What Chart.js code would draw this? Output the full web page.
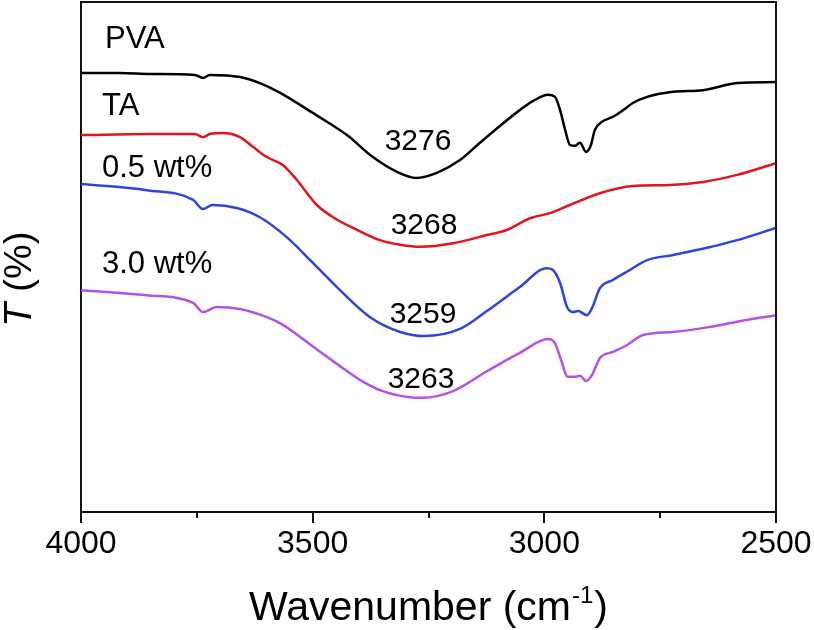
<!DOCTYPE html>
<html>
<head>
<meta charset="utf-8">
<script src="https://cdn.jsdelivr.net/npm/chart.js@4/dist/chart.umd.min.js"></script>
<style>
html,body{margin:0;padding:0;background:#fff;}
canvas{display:block;}
</style>
</head>
<body>
<canvas id="c" width="814" height="630"></canvas>
<script>
// Wavenumbers (cm-1) and transmittance (arbitrary offset %)
const pvaWn = [4000,3916,3851,3754,3737,3722,3657,3614,3570,3499,3426,3370,3318,3277,3232,3182,3139,3096,3053,3024,2992,2977,2966,2955,2945,2934,2923,2910,2900,2891,2876,2852,2830,2809,2778,2722,2658,2584,2500];
const pvaT  = [86.1,86.1,85.9,85.7,85.1,85.7,85.3,84.1,82.2,78.2,73.9,69.6,66.7,65.5,66.5,69.0,72.4,75.7,78.8,80.6,81.8,81.4,78.8,74.9,72.0,71.8,72.4,70.6,71.8,74.9,76.5,77.5,78.8,80.2,81.4,82.4,82.7,84.1,84.3];

const taWn = [4000,3851,3754,3737,3722,3694,3657,3629,3599,3564,3534,3506,3491,3456,3404,3355,3311,3268,3197,3124,3081,3059,3031,2988,2945,2880,2809,2729,2658,2584,2500];
const taT  = [73.9,74.1,74.1,73.5,74.1,74.3,73.5,71.6,69.6,68.0,65.1,61.8,60.2,57.8,55.3,53.3,52.4,52.0,52.7,54.3,55.3,56.3,57.6,58.6,60.2,62.5,63.9,64.1,64.7,66.1,68.4];

const w05Wn = [4000,3858,3758,3737,3716,3664,3614,3556,3499,3441,3376,3311,3259,3182,3124,3053,2995,2982,2966,2951,2938,2927,2908,2897,2880,2852,2822,2778,2722,2649,2584,2500];
const w05T  = [64.3,63.1,61.2,59.4,60.2,59.6,57.8,53.9,48.8,43.5,38.2,35.3,34.5,35.9,39.4,44.1,47.8,47.5,44.9,40.2,39.2,39.4,38.6,40.0,43.9,45.5,47.1,49.4,50.4,51.8,53.3,55.7];

const w30Wn = [4000,3858,3758,3737,3707,3657,3599,3564,3527,3484,3441,3398,3355,3290,3263,3197,3124,3053,2992,2977,2966,2949,2934,2923,2910,2897,2880,2852,2822,2787,2722,2642,2584,2500];
const w30T  = [43.5,42.5,41.0,39.2,40.2,39.8,38.2,36.7,34.3,31.4,28.6,25.9,23.9,22.5,22.4,23.7,27.6,31.2,33.9,33.1,30.4,26.5,26.5,26.7,25.7,26.9,30.2,31.4,32.7,34.7,35.3,36.3,37.3,38.6];

const seriesNames = ['PVA','TA','0.5 wt%','3.0 wt%'];
const xTickValues = [4000,3500,3000,2500];
const xMinorTicks = [3750,3250,2750];
const peakLabels = ['3276','3268','3259','3263'];

const pts = (wn, t) => wn.map((w, i) => ({x: w, y: t[i]}));

const FONT = '"Liberation Sans", Arial, Helvetica, sans-serif';

const decor = {
  id: 'decor',
  afterDraw(chart) {
    const ctx = chart.ctx;
    const a = chart.chartArea;
    const xs = chart.scales.x;
    ctx.save();
    // frame top + right
    ctx.strokeStyle = '#111';
    ctx.lineWidth = 2;
    ctx.beginPath();
    ctx.moveTo(a.left, a.top);
    ctx.lineTo(a.right, a.top);
    ctx.lineTo(a.right, a.bottom);
    ctx.stroke();
    // minor ticks
    ctx.beginPath();
    xMinorTicks.forEach(v => {
      const px = Math.round(xs.getPixelForValue(v));
      ctx.moveTo(px, a.bottom);
      ctx.lineTo(px, a.bottom + 6);
    });
    ctx.stroke();
    // series labels
    ctx.fillStyle = '#000';
    ctx.font = '31px ' + FONT;
    ctx.textBaseline = 'alphabetic';
    ctx.textAlign = 'left';
    ctx.fillText(seriesNames[0], 105, 48);
    ctx.fillText(seriesNames[1], 102, 115);
    ctx.fillText(seriesNames[2], 102, 177);
    ctx.fillText(seriesNames[3], 102, 273);
    // peak labels
    ctx.font = '30px ' + FONT;
    ctx.textAlign = 'center';
    ctx.fillText(peakLabels[0], 418, 150);
    ctx.fillText(peakLabels[1], 424, 234);
    ctx.fillText(peakLabels[2], 423, 323);
    ctx.fillText(peakLabels[3], 421, 388);
    // x axis title
    ctx.textAlign = 'left';
    const tf = '41px ' + FONT;
    const sf = '24px ' + FONT;
    ctx.font = tf;
    const p1 = 'Wavenumber (cm';
    const p3 = ')';
    const w1 = ctx.measureText(p1).width;
    const w3 = ctx.measureText(p3).width;
    ctx.font = sf;
    const p2 = '-1';
    const w2 = ctx.measureText(p2).width;
    const total = w1 + w2 + w3 + 2;
    let x0 = (a.left + a.right) / 2 - total / 2;
    const base = 620;
    ctx.font = tf;
    ctx.fillText(p1, x0, base);
    ctx.font = sf;
    ctx.fillText(p2, x0 + w1 + 1, base - 17);
    ctx.font = tf;
    ctx.fillText(p3, x0 + w1 + w2 + 2, base);
    // y axis title
    ctx.save();
    ctx.translate(31, 279);
    ctx.rotate(-Math.PI / 2);
    const itf = 'italic 39px ' + FONT;
    const ntf = '39px ' + FONT;
    ctx.font = itf;
    const tw = ctx.measureText('T').width;
    ctx.font = ntf;
    const rw = ctx.measureText(' (%)').width;
    const start = -(tw + rw) / 2;
    ctx.font = itf;
    ctx.fillText('T', start, 0);
    ctx.font = ntf;
    ctx.fillText(' (%)', start + tw, 0);
    ctx.restore();
    ctx.restore();
  }
};

const mk = (label, wn, t, color) => ({
  label, data: pts(wn, t), borderColor: color, backgroundColor: color,
  borderWidth: 2.5, pointRadius: 0, fill: false,
  cubicInterpolationMode: 'monotone'
});

new Chart(document.getElementById('c'), {
  type: 'line',
  data: {
    datasets: [
      mk(seriesNames[0], pvaWn, pvaT, '#000000'),
      mk(seriesNames[1], taWn, taT, '#e3141a'),
      mk(seriesNames[2], w05Wn, w05T, '#2e45dc'),
      mk(seriesNames[3], w30Wn, w30T, '#b550e8')
    ]
  },
  options: {
    responsive: false,
    animation: false,
    events: [],
    layout: { padding: { top: 2, right: 38, left: 0, bottom: 0 } },
    plugins: { legend: { display: false }, tooltip: { enabled: false } },
    scales: {
      x: {
        type: 'linear', reverse: true, min: 2500, max: 4000,
        afterBuildTicks: s => { s.ticks = xTickValues.map(v => ({value: v})); },
        afterFit: s => { s.height = 118; },
        grid: { display: true, drawOnChartArea: false, drawTicks: true, tickLength: 11, lineWidth: 2, color: '#111', tickColor: '#111' },
        border: { display: true, width: 2, color: '#111' },
        ticks: { color: '#000', font: { size: 32, family: FONT }, padding: 2, maxRotation: 0,
                 callback: v => String(v) }
      },
      y: {
        min: 0, max: 100,
        afterFit: s => { s.width = 81; },
        grid: { display: false },
        border: { display: true, width: 2, color: '#111' },
        ticks: { display: false }
      }
    }
  },
  plugins: [decor]
});
</script>
</body>
</html>
